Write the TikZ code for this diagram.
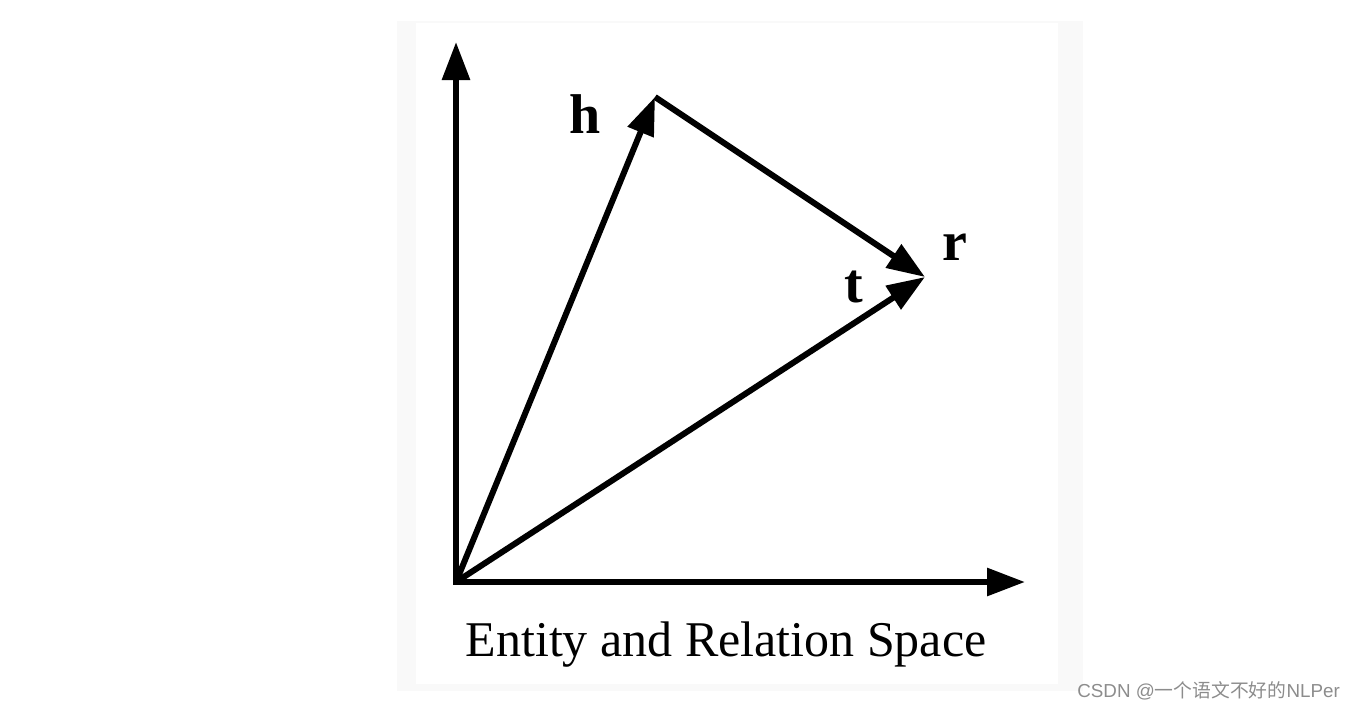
\documentclass[tikz,border=0pt]{standalone}
\usepackage{fontspec}
\setmainfont{Liberation Serif}
\newfontfamily\wmcjk{Noto Sans CJK SC}
\newfontfamily\wmlat{Liberation Sans}
\usetikzlibrary{arrows.meta}
\definecolor{panelgray}{HTML}{F9F9F9}
\definecolor{wmgray}{HTML}{8C8C8C}
\tikzset{
  vec/.style={line width=6pt, -{Triangle[length=38pt,width=27pt]}},
  axes/.style={line width=6pt, {Triangle[length=38pt,width=27pt]}-{Triangle[length=38pt,width=27pt]}, line join=miter},
  lbl/.style={anchor=base, inner sep=0pt, font=\fontsize{56}{60}\selectfont\bfseries},
}
\begin{document}
\begin{tikzpicture}[x=1pt,y=-1pt]
\useasboundingbox (0,0) rectangle (1356,710);
\fill[panelgray] (397,21) rectangle (1083,691);
\fill[white] (416,23) rectangle (1058,684);
\coordinate (O) at (456,582);
\coordinate (Y) at (456,42);
\coordinate (X) at (1025,582);
\coordinate (H) at (655,97);
\coordinate (R) at (925,277);
\draw[axes] (Y) -- (O) -- (X);
\draw[vec] (O) -- (H);
\draw[vec] (H) -- (R);
\draw[vec] (O) -- (R);
\node[lbl] (hl) at (585,133) {h};
\node[lbl] (rl) at (955,260) {r};
\node[lbl] (tl) at (854,302) {t};
\node[anchor=base, inner sep=0pt, font=\fontsize{50}{60}\selectfont] (cap) at (726,656) {Entity and Relation Space};
\node[anchor=base east, inner sep=0pt, text=wmgray, font=\fontsize{18.8}{20}\selectfont] (wm) at (1340,697) {\wmlat CSDN @\wmcjk 一个语文不好的\wmlat NLPer};
\end{tikzpicture}
\end{document}
